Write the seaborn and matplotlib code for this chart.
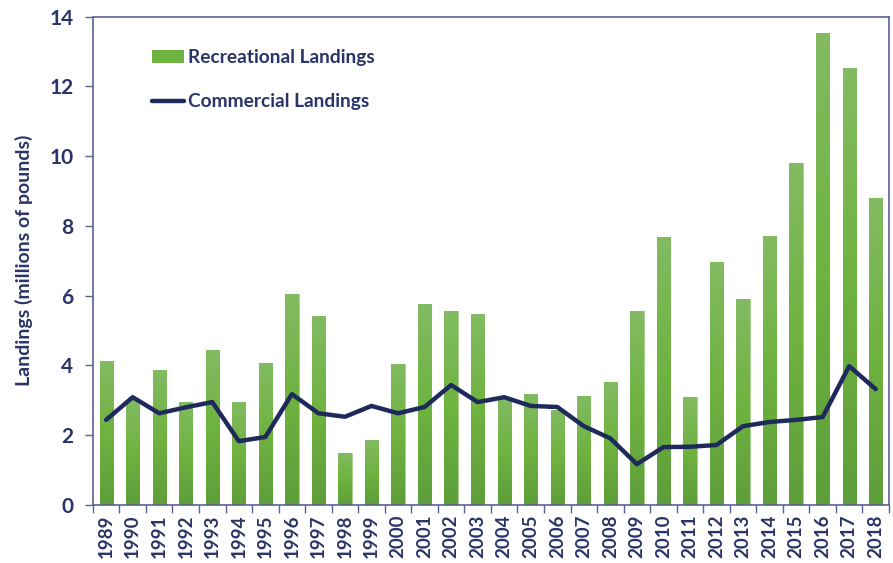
import numpy as np
import pandas as pd
import seaborn as sns
import matplotlib.pyplot as plt
from matplotlib.colors import LinearSegmentedColormap
from matplotlib.lines import Line2D
from matplotlib.patches import Patch

# Values (millions of pounds)
years = [str(y) for y in range(1989, 2019)]
recreational = [4.13, 3.0, 3.87, 2.95, 4.44, 2.95, 4.07, 6.05, 5.42, 1.49,
                1.86, 4.04, 5.76, 5.56, 5.47, 3.07, 3.18, 2.72, 3.12, 3.52,
                5.56, 7.68, 3.1, 6.96, 5.9, 7.72, 9.8, 13.52, 12.52, 8.8]
commercial = [2.44, 3.09, 2.63, 2.8, 2.95, 1.83, 1.95, 3.18, 2.63, 2.53,
              2.84, 2.63, 2.81, 3.44, 2.95, 3.09, 2.84, 2.81, 2.26, 1.91,
              1.17, 1.66, 1.67, 1.72, 2.26, 2.38, 2.44, 2.52, 3.98, 3.32]

df = pd.DataFrame({'Year': years, 'Recreational': recreational,
                   'Commercial': commercial})

navy = '#1f2a5c'
text_col = '#2b3468'
spine_col = '#5a6190'
green = '#6cb33f'

sns.set_style('white')
plt.rcParams['font.family'] = ['Lato', 'DejaVu Sans']

fig = plt.figure(figsize=(8.93, 5.63), dpi=100)
ax = fig.add_axes([0.104, 0.103, 0.8915, 0.8675])

sns.barplot(data=df, x='Year', y='Recreational', color=green, width=0.5,
            saturation=1, ax=ax, zorder=2)

# light-to-dark vertical gradient on each bar
cmap = LinearSegmentedColormap.from_list('g', ['#5e9e3a', '#6fb340', '#82bb62'])
grad = np.linspace(0, 1, 256).reshape(-1, 1)
for bar in ax.patches:
    x0, w, h = bar.get_x(), bar.get_width(), bar.get_height()
    im = ax.imshow(grad, cmap=cmap, aspect='auto', origin='lower',
                   extent=[x0, x0 + w, 0, h], zorder=2.1)
    im.set_clip_path(bar)
    bar.set_edgecolor('#a9d18e')
    bar.set_linewidth(0.6)

sns.lineplot(x=np.arange(len(years)), y=df['Commercial'], color=navy,
             linewidth=3.2, ax=ax, zorder=3)

ax.set_xlim(-0.5, len(years) - 0.5)
ax.set_ylim(0, 14)
ax.set_yticks(range(0, 15, 2))
ax.set_xlabel('')
ax.set_ylabel('Landings (millions of pounds)', fontsize=14, fontweight='bold',
              color=text_col, labelpad=12)

ax.set_xticks(range(len(years)))
ax.set_xticklabels(years, rotation=90, fontsize=13.5, fontweight='bold',
                   color=text_col)
ax.set_xticks(np.arange(-0.5, len(years)), minor=True)
ax.tick_params(axis='x', which='major', length=0, pad=7)
ax.tick_params(axis='x', which='minor', length=6, width=1, color=spine_col,
               direction='out', bottom=True)
ax.tick_params(axis='y', length=6, width=1, color=spine_col, direction='out',
               left=True, labelsize=15, labelcolor=text_col, pad=8)
for lab in ax.get_yticklabels():
    lab.set_fontweight('bold')

for s in ax.spines.values():
    s.set_color(spine_col)
    s.set_linewidth(1.2)

handles = [Patch(facecolor=green, edgecolor='none'),
           Line2D([0], [0], color=navy, linewidth=3.2)]
leg = ax.legend(handles, ['Recreational Landings', 'Commercial Landings'],
                loc='upper left', bbox_to_anchor=(0.052, 0.969), frameon=False,
                prop={'size': 13.8, 'weight': 'bold'}, handlelength=1.7,
                handletextpad=0.2, labelspacing=1.42)
for t in leg.get_texts():
    t.set_color(text_col)

fig.savefig('out.png', dpi=100)
